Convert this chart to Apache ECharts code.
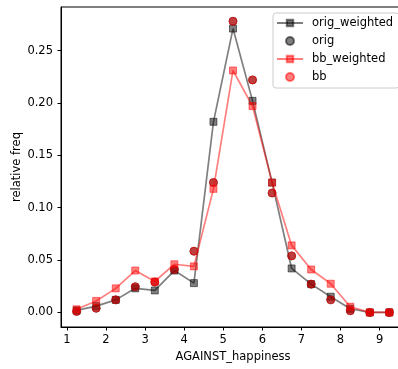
<!DOCTYPE html>
<html><head><meta charset="utf-8">
<script src="https://cdn.jsdelivr.net/npm/echarts@6/dist/echarts.min.js"></script>
<style>html,body{margin:0;padding:0;background:#fff}#c{width:398px;height:369px}</style>
</head><body><div id="c"></div>
<script>
const xVals = [1.25,1.75,2.25,2.75,3.25,3.75,4.25,4.75,5.25,5.75,6.25,6.75,7.25,7.75,8.25,8.75,9.25];
const origWeighted = [0.002,0.006,0.012,0.023,0.021,0.040,0.028,0.182,0.271,0.202,0.124,0.042,0.027,0.015,0.0035,0,0];
const orig = [0.001,0.004,0.012,0.0245,0.029,0.041,0.0585,0.124,0.278,0.222,0.114,0.054,0.027,0.012,0.0016,0,0];
const bbWeighted = [0.003,0.011,0.023,0.040,0.0296,0.046,0.044,0.118,0.231,0.197,0.124,0.064,0.041,0.0274,0.0054,0,0];
const bb = [0.001,0.004,0.012,0.0245,0.029,0.041,0.0585,0.124,0.278,0.222,0.114,0.054,0.027,0.012,0.0016,0,0];
const xTicks = [1,2,3,4,5,6,7,8,9];
const yTicks = [0,0.05,0.10,0.15,0.20,0.25];

const pair = arr => xVals.map((x,i)=>[x,arr[i]]);
const FONT = 'DejaVu Sans';
const gray = 'rgba(0,0,0,0.5)', red = 'rgba(255,0,0,0.5)';
const chart = echarts.init(document.getElementById('c'), null, {renderer:'canvas'});
chart.setOption({
  animation:false,
  textStyle:{fontFamily:FONT},
  grid:{left:61,right:-7,top:7,bottom:42,show:true,borderColor:'#000',borderWidth:1,backgroundColor:'transparent',
    containLabel:false,outerBoundsMode:'none'},
  xAxis:{type:'value',min:0.85,max:9.65,name:'AGAINST_happiness',nameLocation:'middle',nameGap:24,nameMoveOverlap:false,
    nameTextStyle:{fontFamily:FONT,fontSize:11.5,color:'#000'},
    axisLine:{show:true,onZero:false,lineStyle:{color:'#000',width:1}},
    axisTick:{show:true,length:3.5,lineStyle:{color:'#000'},customValues:xTicks},
    axisLabel:{fontFamily:FONT,fontSize:11.5,color:'#000',margin:7,customValues:xTicks,formatter:v=>String(v)},
    splitLine:{show:false}},
  yAxis:{type:'value',min:-0.0139,max:0.2916,name:'relative freq',nameLocation:'middle',nameGap:38,nameMoveOverlap:false,
    nameTextStyle:{fontFamily:FONT,fontSize:11.5,color:'#000'},
    axisLine:{show:true,onZero:false,lineStyle:{color:'#000',width:1}},
    axisTick:{show:true,length:3.5,lineStyle:{color:'#000'},customValues:yTicks},
    axisLabel:{fontFamily:FONT,fontSize:11.5,color:'#000',margin:8,customValues:yTicks,formatter:v=>v.toFixed(2)},
    splitLine:{show:false}},
  legend:{orient:'vertical',left:273,top:13,padding:[3,6,4,3],itemGap:4,itemWidth:26,itemHeight:8,
    backgroundColor:'rgba(255,255,255,0.8)',borderColor:'#cccccc',borderWidth:1,borderRadius:3,
    textStyle:{fontFamily:FONT,fontSize:11.5,color:'#000',lineHeight:14,padding:[0,0,0,4]},
    data:['orig_weighted','orig','bb_weighted','bb']},
  series:[
    {name:'orig_weighted',type:'line',data:pair(origWeighted),symbol:'rect',symbolSize:7,
      lineStyle:{color:gray,width:1.7},itemStyle:{color:gray,borderColor:gray,borderWidth:1},z:2},
    {name:'orig',type:'scatter',data:pair(orig),symbol:'circle',symbolSize:8,
      itemStyle:{color:gray,borderColor:gray,borderWidth:1,opacity:1},z:3},
    {name:'bb_weighted',type:'line',data:pair(bbWeighted),symbol:'rect',symbolSize:7,
      lineStyle:{color:red,width:1.7},itemStyle:{color:red,borderColor:red,borderWidth:1},z:4},
    {name:'bb',type:'scatter',data:pair(bb),symbol:'circle',symbolSize:8,
      itemStyle:{color:red,borderColor:red,borderWidth:1,opacity:1},z:5}
  ]
});
</script></body></html>
